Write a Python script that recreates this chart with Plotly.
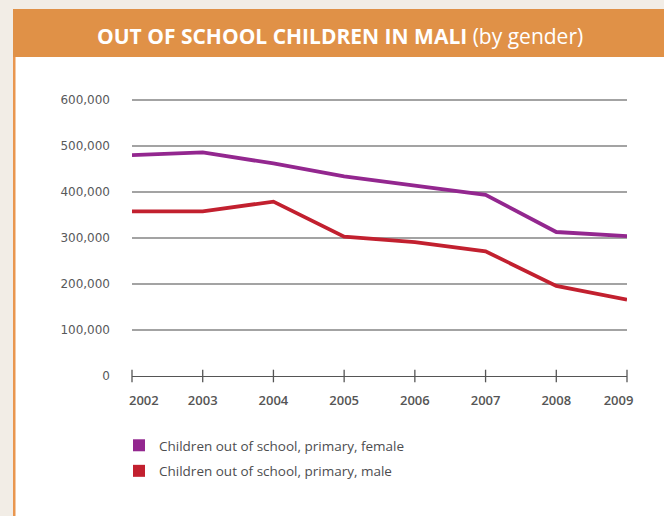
import plotly.graph_objects as go

years = [2002, 2003, 2004, 2005, 2006, 2007, 2008, 2009]
year_labels = ["2002", "2003", "2004", "2005", "2006", "2007", "2008", "2009"]
female = [480000, 486000, 462000, 434000, 414000, 394000, 313000, 304000]
male = [358000, 358000, 379000, 303000, 291000, 271000, 196000, 166000]
series_names = ["Children out of school, primary, female",
                "Children out of school, primary, male"]
y_ticks = [0, 100000, 200000, 300000, 400000, 500000, 600000]
y_tick_labels = ["0", "100,000", "200,000", "300,000", "400,000", "500,000", "600,000"]
title_main = "OUT OF SCHOOL CHILDREN IN MALI"
title_sub = "(by gender)"

W, H = 664, 516
L, R, T, B = 132, 627, 96, 376
Y600 = 100  # pixel row of the 600,000 gridline
y_top = y_ticks[-1] * (B - T) / (B - Y600)

PURPLE = "#93278f"
RED = "#c2202f"
ORANGE = "#e09147"
BEIGE = "#f2ede6"


def px(x):
    return (x - L) / (R - L)


def py(y):
    return (B - y) / (B - T)


# pad first / last year labels inward like the reference
ticktext = list(year_labels)
ticktext[0] = "\u00a0" * 7 + ticktext[0]
ticktext[-1] = ticktext[-1] + "\u00a0" * 5

fig = go.Figure()
fig.add_trace(go.Scatter(x=years, y=female, mode="lines", name=series_names[0],
                         line=dict(color=PURPLE, width=3.8), showlegend=False))
fig.add_trace(go.Scatter(x=years, y=male, mode="lines", name=series_names[1],
                         line=dict(color=RED, width=3.8), showlegend=False))
# cross tick marks on the zero axis
fig.add_trace(go.Scatter(x=years, y=[0] * len(years), mode="markers",
                         marker=dict(symbol="line-ns", size=9,
                                     line=dict(color="#555555", width=1.3)),
                         cliponaxis=False, showlegend=False, hoverinfo="skip"))
# legend entries (square swatches)
for i, (nm, col) in enumerate(zip(series_names, [PURPLE, RED])):
    fig.add_trace(go.Scatter(x=[None], y=[None], mode="markers", name=nm,
                             marker=dict(symbol="square", size=12, color=col),
                             legendgroup=f"g{i}"))

shapes = [
    # white panel
    dict(type="rect", xref="paper", yref="paper", x0=px(13), x1=px(664),
         y0=py(57), y1=py(516), fillcolor="white", line=dict(width=0), layer="below"),
    # left orange border
    dict(type="rect", xref="paper", yref="paper", x0=px(13), x1=px(15.5),
         y0=py(57), y1=py(516), fillcolor="#e9964f", line=dict(width=0), layer="below"),
    # header bar
    dict(type="rect", xref="paper", yref="paper", x0=px(13), x1=px(664),
         y0=py(9), y1=py(57), fillcolor=ORANGE, line=dict(width=0), layer="below"),
]

annotations = [
    dict(xref="paper", yref="paper", x=px(340), y=py(36), xanchor="center",
         yanchor="middle", showarrow=False,
         text=f"<b>{title_main}</b> {title_sub}",
         font=dict(family="Open Sans", size=21, color="white")),
]

fig.update_layout(
    width=W, height=H,
    margin=dict(l=L, r=W - R, t=T, b=H - B, pad=0),
    paper_bgcolor=BEIGE,
    plot_bgcolor="rgba(0,0,0,0)",
    shapes=shapes,
    annotations=annotations,
    showlegend=True,
    legend=dict(x=px(119), y=py(430), xanchor="left", yanchor="top",
                bgcolor="rgba(0,0,0,0)", tracegroupgap=5,
                font=dict(family="Open Sans", size=13.5, color="#4d4d4f")),
    xaxis=dict(range=[2002, 2009], tickvals=years, ticktext=ticktext,
               showgrid=False, zeroline=False, showline=True,
               linecolor="#555555", linewidth=1.2, ticks="",
               ticklabelstandoff=12,
               tickfont=dict(family="Open Sans", size=13, color="#555555", weight=600)),
    yaxis=dict(range=[0, y_top], tickvals=y_ticks, ticktext=y_tick_labels,
               showgrid=True, gridcolor="#a3a3a3", gridwidth=1.5, zeroline=False,
               showline=False, ticks="", ticklabelstandoff=21,
               tickfont=dict(family="DejaVu Sans", size=12, color="#58595b")),
)

fig.write_html(
    "out.html",
    config={"displayModeBar": False},
    post_script=("document.body.style.margin='0';"
                 "document.body.style.background='" + BEIGE + "';"),
)
